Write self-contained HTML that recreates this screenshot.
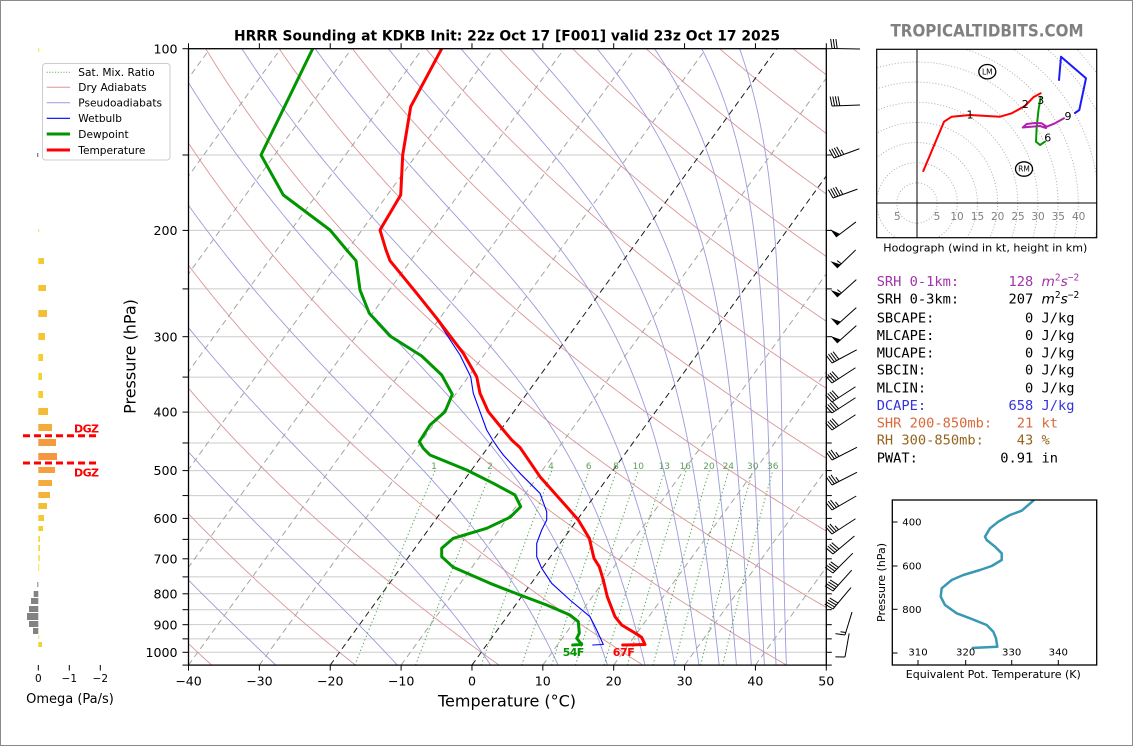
<!DOCTYPE html>
<html><head><meta charset="utf-8">
<style>
html,body{margin:0;padding:0;background:#fff;}
svg{display:block;font-family:"DejaVu Sans","Liberation Sans",sans-serif;}
.mono{font-family:"DejaVu Sans Mono","Liberation Mono",monospace;font-size:13.7px;white-space:pre;}
</style></head><body>
<svg id="s" width="1134" height="748" viewBox="0 0 1134 748" xmlns="http://www.w3.org/2000/svg">
<rect x="0" y="0" width="1134" height="748" fill="#fff"/>
<rect x="0.5" y="0.5" width="1132" height="745" fill="none" stroke="#8a8a8a" stroke-width="1"/>
<defs>
<clipPath id="mainclip"><rect x="188.5" y="48.7" width="637.8" height="616.4"/></clipPath>
<clipPath id="hodoclip"><rect x="876.7" y="49.3" width="220" height="188.4"/></clipPath>
<clipPath id="teclip"><rect x="892.3" y="500" width="204.4" height="165"/></clipPath>
</defs>

<g id="bg" clip-path="url(#mainclip)"></g>

<g font-size="9" fill="#5aa05a" text-anchor="middle">
<text x="434" y="468.8">1</text><text x="490" y="468.8">2</text><text x="551" y="468.8">4</text>
<text x="588.7" y="468.8">6</text><text x="616" y="468.8">8</text><text x="638.3" y="468.8">10</text>
<text x="664.3" y="468.8">13</text><text x="685.3" y="468.8">16</text><text x="709" y="468.8">20</text>
<text x="728.3" y="468.8">24</text><text x="752.7" y="468.8">30</text><text x="772.7" y="468.8">36</text>
</g>

<g clip-path="url(#mainclip)" fill="none" stroke-linejoin="round" stroke-linecap="round">
<polyline stroke="#0000ff" stroke-width="1.1" points="441.2,48.7 410.2,106.7 402.2,155 400.2,195 379.6,230 385.6,250 389.6,260.7 413,290 435,316.7 460,355 470.7,376.7 473.3,393.3 480,411.7 486.7,430 492.7,440 498.3,448.3 503.3,455 520,473.3 540,493.3 546.7,511.7 546.7,520 541.7,530 536.7,543.3 536.7,556.7 541.7,568.3 551.7,583.3 570,600 590,616.7 596.7,630 603.3,644.5 592.7,645"/>
<polyline stroke="#009600" stroke-width="3" points="312.7,48.7 261,155 283.3,195 330,230 346.7,250 356,260.7 360,290 369.3,313.3 390,336 421.7,356 441.7,375 452.3,394.3 445,411.7 430,425 419.3,441.7 423.3,448.3 430,455 466.7,470 493.3,483.3 515,495 520.7,506.7 510,517.3 486.7,528.3 453.3,538.3 441.7,548.3 441.7,556.7 453.3,567.3 490,583.3 520,595 546.7,605 570,615 578.3,621.7 579.3,633.3 576.7,638.3 581.7,644.5 572.7,645"/>
<polyline stroke="#ff0000" stroke-width="3" points="441.7,48.7 410.7,106.7 402.7,155 400.7,195 380,230 386,250 390,260.7 416.7,293.3 436.7,318.3 463.3,353.3 476.7,376.7 480,393.3 488.3,411.7 503.3,430 511.7,440 520,447.5 540,476.7 566.7,506.7 578.3,520 589.3,538.3 594,558.3 599.3,566.7 603.3,580 607.3,596.7 615,616.7 621.7,625 638.3,635 641.7,637.5 645,644.5 622.7,645"/>
</g>
<text x="573.5" y="656" font-size="11" font-weight="bold" fill="#009600" text-anchor="middle" textLength="21.5">54F</text>
<text x="623.8" y="656" font-size="11" font-weight="bold" fill="#ff0000" text-anchor="middle" textLength="22">67F</text>

<g id="ticks" stroke="#000" stroke-width="1"></g>
<rect x="188.5" y="48.7" width="637.8" height="616.4" fill="none" stroke="#000" stroke-width="1.3"/>

<text x="507" y="40.7" font-size="13.75" font-weight="bold" text-anchor="middle" textLength="546" lengthAdjust="spacingAndGlyphs">HRRR Sounding at KDKB Init: 22z Oct 17 [F001] valid 23z Oct 17 2025</text>

<g font-size="12.6" text-anchor="end" fill="#000">
<text x="177.5" y="53.3">100</text>
<text x="177.5" y="235">200</text>
<text x="177.5" y="341.3">300</text>
<text x="177.5" y="416.7">400</text>
<text x="177.5" y="475.2">500</text>
<text x="177.5" y="523">600</text>
<text x="177.5" y="563.4">700</text>
<text x="177.5" y="598.4">800</text>
<text x="177.5" y="629.3">900</text>
<text x="177.5" y="656.9">1000</text>
</g>
<g font-size="12.6" text-anchor="middle" fill="#000">
<text x="188.5" y="685.6">−40</text>
<text x="259.4" y="685.6">−30</text>
<text x="330.2" y="685.6">−20</text>
<text x="401.1" y="685.6">−10</text>
<text x="472" y="685.6">0</text>
<text x="542.8" y="685.6">10</text>
<text x="613.7" y="685.6">20</text>
<text x="684.6" y="685.6">30</text>
<text x="755.4" y="685.6">40</text>
<text x="826.3" y="685.6">50</text>
</g>
<text x="507" y="706.5" font-size="16" text-anchor="middle">Temperature (°C)</text>
<text transform="translate(135.5,356.5) rotate(-90)" font-size="16" text-anchor="middle">Pressure (hPa)</text>

<g id="omega"></g>
<g stroke="#000" stroke-width="1">
<line x1="38.3" y1="665" x2="38.3" y2="670.5"/>
<line x1="69.3" y1="665" x2="69.3" y2="670.5"/>
<line x1="100.3" y1="665" x2="100.3" y2="670.5"/>
</g>
<g font-size="10.5" text-anchor="middle">
<text x="38.3" y="682">0</text>
<text x="69.3" y="682">−1</text>
<text x="100.3" y="682">−2</text>
</g>
<text x="70" y="703" font-size="13" text-anchor="middle">Omega (Pa/s)</text>
<g stroke="#ff0000" stroke-width="3" stroke-dasharray="7,4">
<line x1="23" y1="435.7" x2="98" y2="435.7"/>
<line x1="23" y1="463" x2="98" y2="463"/>
</g>
<g font-size="11" font-weight="bold" fill="#ff0000">
<text x="74" y="432.3" textLength="25">DGZ</text>
<text x="74" y="476.7" textLength="25">DGZ</text>
</g>

<rect x="42.5" y="63.5" width="127.5" height="96.5" rx="3" fill="#fff" fill-opacity="0.85" stroke="#cccccc" stroke-width="1"/>
<g fill="none">
<line x1="46.7" y1="72.3" x2="70" y2="72.3" stroke="#4aa04a" stroke-width="1" stroke-dasharray="1,1.8"/>
<line x1="46.7" y1="87.3" x2="70" y2="87.3" stroke="#dc9696" stroke-width="1"/>
<line x1="46.7" y1="102.7" x2="70" y2="102.7" stroke="#9b9bdc" stroke-width="1"/>
<line x1="46.7" y1="118.3" x2="70" y2="118.3" stroke="#0000ff" stroke-width="1.2"/>
<line x1="46.7" y1="134" x2="70" y2="134" stroke="#009600" stroke-width="3"/>
<line x1="46.7" y1="150" x2="70" y2="150" stroke="#ff0000" stroke-width="3"/>
</g>
<g font-size="10.6" fill="#000">
<text x="78.3" y="76.1">Sat. Mix. Ratio</text>
<text x="78.3" y="91.1">Dry Adiabats</text>
<text x="78.3" y="106.5">Pseudoadiabats</text>
<text x="78.3" y="122.1">Wetbulb</text>
<text x="78.3" y="137.8">Dewpoint</text>
<text x="78.3" y="153.8">Temperature</text>
</g>

<g id="barbs"></g>

<text x="987" y="36.7" font-size="17" font-weight="bold" fill="#808080" text-anchor="middle" textLength="193" lengthAdjust="spacingAndGlyphs">TROPICALTIDBITS.COM</text>
<g clip-path="url(#hodoclip)" fill="none" stroke="#a8a8a8" stroke-width="0.9" stroke-dasharray="1,2">
<circle cx="917" cy="203" r="20.15"/><circle cx="917" cy="203" r="40.3"/><circle cx="917" cy="203" r="60.45"/>
<circle cx="917" cy="203" r="80.6"/><circle cx="917" cy="203" r="100.75"/><circle cx="917" cy="203" r="120.9"/>
<circle cx="917" cy="203" r="141.05"/><circle cx="917" cy="203" r="161.2"/><circle cx="917" cy="203" r="181.35"/>
<circle cx="917" cy="203" r="201.5"/><circle cx="917" cy="203" r="221.65"/><circle cx="917" cy="203" r="241.8"/>
</g>
<line x1="917" y1="49.3" x2="917" y2="237.7" stroke="#000" stroke-width="1"/>
<line x1="876.7" y1="203" x2="1096.7" y2="203" stroke="#000" stroke-width="1"/>
<g font-size="10.5" fill="#808080" text-anchor="middle">
<text x="897.3" y="220">5</text><text x="937" y="220">5</text><text x="957" y="220">10</text>
<text x="977.5" y="220">15</text><text x="997.7" y="220">20</text><text x="1018" y="220">25</text>
<text x="1038" y="220">30</text><text x="1058.3" y="220">35</text><text x="1078.7" y="220">40</text>
</g>
<g clip-path="url(#hodoclip)" fill="none" stroke-width="2" stroke-linejoin="round" stroke-linecap="round">
<polyline stroke="#ff0000" points="923.3,171 944,121.7 951.7,116.7 970,115 1000,116.7 1011.7,113.3 1025,106 1033.3,97.3 1040.7,93.3"/>
<polyline stroke="#009600" points="1040.7,97 1038.5,110 1036.7,126.7 1036,141.7 1040,145 1045,141.7"/>
<polyline stroke="#b020b0" points="1046,128 1040,126 1028,127 1022.7,127.5 1026.7,124 1035,123 1041.7,123.3 1046.7,126.7 1055,123.3 1064,118.3"/>
<polyline stroke="#1a1aff" points="1075,113 1079.3,110 1086,78.3 1061,56.7 1059,80"/>
</g>
<g font-size="11" fill="#000" text-anchor="middle">
<text x="970" y="118.3">1</text><text x="1025.3" y="108">2</text><text x="1040.7" y="104">3</text>
<text x="1047.7" y="141.3">6</text><text x="1068" y="120">9</text>
</g>
<ellipse cx="987.3" cy="71.7" rx="8.5" ry="7.2" fill="#fff" stroke="#000" stroke-width="1.3"/>
<text x="987.3" y="74.4" font-size="7.5" text-anchor="middle">LM</text>
<ellipse cx="1024" cy="169" rx="8.5" ry="7.2" fill="#fff" stroke="#000" stroke-width="1.3"/>
<text x="1024" y="171.7" font-size="7.5" text-anchor="middle">RM</text>
<rect x="876.7" y="49.3" width="220" height="188.4" fill="none" stroke="#000" stroke-width="1.2"/>
<text x="985.3" y="251.3" font-size="11" text-anchor="middle" textLength="204" lengthAdjust="spacingAndGlyphs">Hodograph (wind in kt, height in km)</text>

<text class="mono" x="876.7" y="286" fill="#a033a8">SRH 0-1km:      128 <tspan font-family="DejaVu Sans" font-style="italic">m</tspan><tspan font-size="9.5" dy="-5.5">2</tspan><tspan dy="5.5" font-family="DejaVu Sans" font-style="italic">s</tspan><tspan font-size="9.5" dy="-5.5">−2</tspan></text>
<text class="mono" x="876.7" y="303.3" fill="#000">SRH 0-3km:      207 <tspan font-family="DejaVu Sans" font-style="italic">m</tspan><tspan font-size="9.5" dy="-5.5">2</tspan><tspan dy="5.5" font-family="DejaVu Sans" font-style="italic">s</tspan><tspan font-size="9.5" dy="-5.5">−2</tspan></text>
<text class="mono" x="876.7" y="322.3" fill="#000">SBCAPE:           0 J/kg</text>
<text class="mono" x="876.7" y="340" fill="#000">MLCAPE:           0 J/kg</text>
<text class="mono" x="876.7" y="357.3" fill="#000">MUCAPE:           0 J/kg</text>
<text class="mono" x="876.7" y="374.7" fill="#000">SBCIN:            0 J/kg</text>
<text class="mono" x="876.7" y="392.3" fill="#000">MLCIN:            0 J/kg</text>
<text class="mono" x="876.7" y="410" fill="#3333dd">DCAPE:          658 J/kg</text>
<text class="mono" x="876.7" y="427.7" fill="#d9693a">SHR 200-850mb:   21 kt</text>
<text class="mono" x="876.7" y="444.7" fill="#96641e">RH 300-850mb:    43 %</text>
<text class="mono" x="876.7" y="462.3" fill="#000">PWAT:          0.91 in</text>

<g clip-path="url(#teclip)">
<polyline fill="none" stroke="#3899b4" stroke-width="2.5" stroke-linejoin="round" points="1035,498 1033.3,500.7 1021.7,510.7 1010,515 998.3,521.7 990,528.3 985,536.7 986.7,540 995,546.7 1001.7,553.3 1001.7,560 991.7,566 980,570 963.3,575 951.7,580 941.7,588.3 940.7,596.7 945,605 956.7,613.3 970,618.3 986.7,625 993.3,631.7 996,638.3 997.3,646.7 971.7,648"/>
</g>
<g stroke="#000" stroke-width="1">
<line x1="892.3" y1="522" x2="897.5" y2="522"/>
<line x1="892.3" y1="566" x2="897.5" y2="566"/>
<line x1="892.3" y1="609.3" x2="897.5" y2="609.3"/>
<line x1="892.3" y1="653" x2="897.5" y2="653"/>
<line x1="918" y1="665" x2="918" y2="660"/>
<line x1="965.7" y1="665" x2="965.7" y2="660"/>
<line x1="1011.7" y1="665" x2="1011.7" y2="660"/>
<line x1="1058.3" y1="665" x2="1058.3" y2="660"/>
</g>
<g font-size="10.1" fill="#000">
<text x="902.3" y="525.7">400</text>
<text x="902.3" y="569.7">600</text>
<text x="902.3" y="613">800</text>
</g>
<g font-size="10.1" fill="#000" text-anchor="middle">
<text x="918" y="655.7">310</text>
<text x="965.7" y="655.7">320</text>
<text x="1011.7" y="655.7">330</text>
<text x="1058.3" y="655.7">340</text>
</g>
<rect x="892.3" y="500" width="204.4" height="165" fill="none" stroke="#000" stroke-width="1.3"/>
<text x="993.3" y="678" font-size="10.8" text-anchor="middle" textLength="175" lengthAdjust="spacingAndGlyphs">Equivalent Pot. Temperature (K)</text>
<text transform="translate(885,582.5) rotate(-90)" font-size="10.8" text-anchor="middle" textLength="79" lengthAdjust="spacingAndGlyphs">Pressure (hPa)</text>
</svg>

<script>
(function(){
const NS="http://www.w3.org/2000/svg";
const L=188.5,R=826.3,SC=7.0867,K=0.7245,YT=48.7,YS=603.6;
const Y=p=>YT+YS*Math.log10(p/100);
const YB=Y(1050);
const X=(T,y)=>L+(T+40)*SC+K*(YB-y);
function mk(tag,attrs,parent){const e=document.createElementNS(NS,tag);for(const k in attrs)e.setAttribute(k,attrs[k]);parent.appendChild(e);return e;}
function poly(pts,attrs,parent){attrs.points=pts.map(q=>q[0].toFixed(2)+','+q[1].toFixed(2)).join(' ');attrs.fill='none';return mk('polyline',attrs,parent);}
const bg=document.getElementById('bg');
const P=[];for(let i=0;i<=160;i++)P.push(1050*Math.pow(100/1050,i/160));
for(let p=100;p<=1050;p+=50){const y=Y(p);mk('line',{x1:L,x2:R,y1:y,y2:y,stroke:'#cbcbcb','stroke-width':1},bg);}
for(let th=-40;th<=280;th+=20){const thK=th+273.15;const pts=P.map(p=>{const T=thK*Math.pow(p/1000,0.2857)-273.15;const y=Y(p);return [X(T,y),y];});poly(pts,{stroke:'#dc9696','stroke-width':0.9},bg);}
function es(Tc){return 6.112*Math.exp(17.67*Tc/(Tc+243.5));}
function thetae(TK,p){const e=es(TK-273.15);const r=(e>=0.5*p)?10:0.622*e/(p-e);return TK*Math.pow(1000/p,0.2857)*Math.exp(2.501e6*r/(1005.7*TK));}
function solveT(te,p){let lo=150,hi=345;for(let i=0;i<45;i++){const m=(lo+hi)/2;if(thetae(m,p)>te)hi=m;else lo=m;}return (lo+hi)/2;}
for(let te=243;te<=503;te+=20){const pts=P.map(p=>{const T=solveT(te,p)-273.15;const y=Y(p);return [X(T,y),y];});poly(pts,{stroke:'#9b9bdc','stroke-width':0.9},bg);}
for(let T=-110;T<=50;T+=10){const blk=(T===0||T===-20);mk('line',{x1:X(T,YB),y1:YB,x2:X(T,YT),y2:YT,stroke:blk?'#1a1a1a':'#a4a4a4','stroke-width':1,'stroke-dasharray':'6,4'},bg);}
const W=[1,2,4,6,8,10,13,16,20,24,30,36];
const Pm=[];for(let i=0;i<=40;i++)Pm.push(1050*Math.pow(500/1050,i/40));
for(const w of W){const pts=Pm.map(p=>{const e=w*p/(622+w);const l=Math.log(e/6.112);const Td=243.5*l/(17.67-l);const y=Y(p);return [X(Td,y),y];});poly(pts,{stroke:'#4aa04a','stroke-width':1,'stroke-dasharray':'1.2,2.6'},bg);}
const tk=document.getElementById('ticks');
for(let p=100;p<=1050;p+=50){const y=Y(p);mk('line',{x1:182.5,x2:L,y1:y,y2:y},tk);mk('line',{x1:R,x2:R+5.5,y1:y,y2:y},tk);}
for(let T=-40;T<=50;T+=10){const x=L+(T+40)*SC;mk('line',{x1:x,x2:x,y1:YB,y2:YB+5.5},tk);mk('line',{x1:x,x2:x,y1:YT,y2:YT-5.5},tk);}
const og=document.getElementById('omega');
const om=[[48,52,39],[153,157,37],[229,232,39],[258,264,44],[285,291,46],[310,317,47],[333,340,45],[354,361,43],[373,380,42],[391,398,43],[408,415,48],[424,431,52],[439,446,56],[453,460,57],[467,473,55],[480,486,52],[492,498,50],[503,509,47],[515,521,44],[526,531,43],[536,542,40],[545,551,40],[555,561,39.7],[564,571,38.9],[582,587,37.3],[591,597,33.7],[598,604,31],[606,612,29],[613,620,27],[621,627,29],[628,634,33],[635,639,39],[642,647,42]];
const x0=38.3;
for(const [t,b,xe] of om){let c,x,w;
 if(xe<x0){c='#828282';x=xe;w=x0-xe;}
 else{w=xe-x0;x=x0;const f=Math.min(1,w/19);const r=Math.round(242+3*f),g=Math.round(226-76*f),bl=Math.round(42+23*f);c='rgb('+r+','+g+','+bl+')';}
 mk('rect',{x:x,y:t,width:Math.max(w,0.9),height:b-t,fill:c},og);}
const bb=document.getElementById('barbs');
function barb(xs,ys,ang,len,fl,fu,ha){const a=ang*Math.PI/180;const dx=Math.cos(a),dy=-Math.sin(a);const px=-Math.sin(a),py=-Math.cos(a);
 mk('line',{x1:xs,y1:ys,x2:xs+dx*len,y2:ys+dy*len,stroke:'#000','stroke-width':1},bb);
 let s=0;const FL=9.5;
 for(let i=0;i<fl;i++){const ax=xs+dx*s,ay=ys+dy*s;const bx=xs+dx*(s+5),by=ys+dy*(s+5);
  mk('polygon',{points:ax+','+ay+' '+bx+','+by+' '+(ax+px*FL)+','+(ay+py*FL),fill:'#000'},bb);s+=6;}
 for(let i=0;i<fu;i++){const ax=xs+dx*s,ay=ys+dy*s;mk('line',{x1:ax,y1:ay,x2:ax+px*FL-dx*1.5,y2:ay+py*FL-dy*1.5,stroke:'#000','stroke-width':1},bb);s+=2.6;}
 for(let i=0;i<ha;i++){const ax=xs+dx*s,ay=ys+dy*s;mk('line',{x1:ax,y1:ay,x2:ax+px*FL*0.55-dx*0.8,y2:ay+py*FL*0.55-dy*0.8,stroke:'#000','stroke-width':1},bb);s+=2.6;}
}
const B=[
[832,48.5,-1,28,0,3,0],[832,106,2,28,0,4,0],[834,158,20,27,0,4,1],[833,198,20,26,0,4,1],
[836,237,37,25,1,0,0],[837,268,44,26,1,0,1],[837,297,42,26,1,0,1],[837,325,42,26,1,0,0],[837,343,42,26,1,0,0],
[832,363,28,28,0,4,0],[832,383,33,28,0,4,0],[832,402,33,28,0,4,0],[832,413,33,28,0,4,0],[832,430,33,28,0,4,0],
[832,460,27,28,0,3,1],[832,485,27,28,0,3,1],[832,510,30,28,0,3,1],[832,534,33,28,0,3,1],
[833,554,40,28,0,4,0],[833,573,45,28,0,4,0],[833,591,48,28,0,4,0],[833,609,50,28,0,4,0],
[845,635,73,24,0,1,1],[845,657,80,24,0,1,0]];
for(const b of B)barb(...b);
})();
</script>
</body></html>
